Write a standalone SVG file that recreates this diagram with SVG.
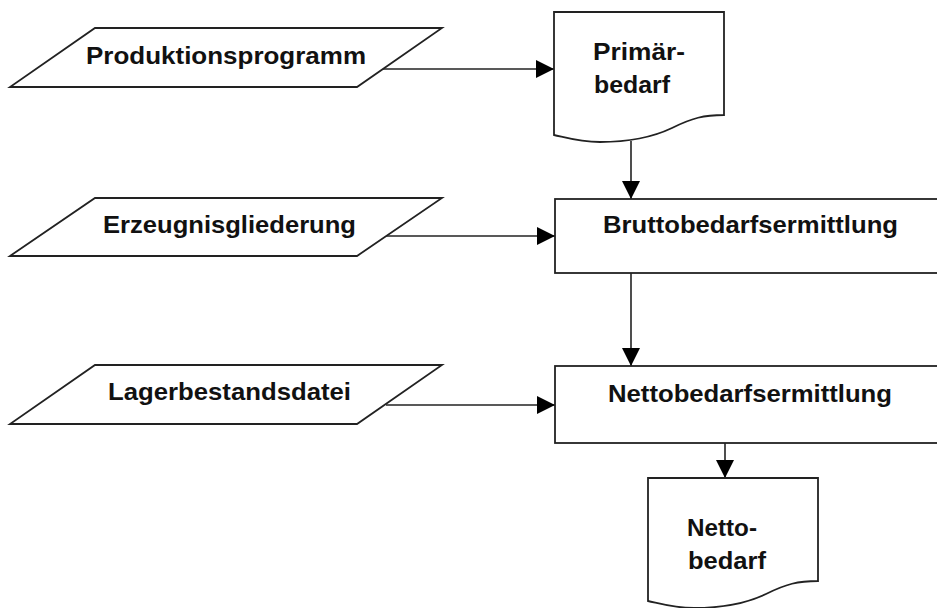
<svg xmlns="http://www.w3.org/2000/svg" width="937" height="608" viewBox="0 0 937 608">
  <style>
    .shape { fill: #ffffff; stroke: #222222; stroke-width: 1.8; }
    .conn { fill: none; stroke: #222222; stroke-width: 1.6; }
    .lbl { font-family: "Liberation Sans", Arial, sans-serif; font-weight: bold; font-size: 24px; fill: #111111; }
  </style>
  <defs>
    <marker id="arrow" markerWidth="18" markerHeight="18" refX="18" refY="9" orient="auto" markerUnits="userSpaceOnUse">
      <path d="M0,0 L18,9 L0,18 Z" fill="#000000"/>
    </marker>
    <!-- document symbol with wavy lower edge -->
    <path id="docShape" d="M0,0 H170 V103 C150,103 138,106 118,116 C95,127 70,130 46,130 C25,130 10,125 0,123 Z"/>
  </defs>
  <rect width="937" height="608" fill="#ffffff"/>

  <!-- connectors -->
  <g id="connectors">
    <line class="conn" x1="383" y1="69" x2="554" y2="69" marker-end="url(#arrow)"/>
    <line class="conn" x1="631" y1="141" x2="631" y2="199" marker-end="url(#arrow)"/>
    <line class="conn" x1="386" y1="236" x2="555" y2="236" marker-end="url(#arrow)"/>
    <line class="conn" x1="631" y1="273" x2="631" y2="366" marker-end="url(#arrow)"/>
    <line class="conn" x1="386" y1="405" x2="555" y2="405" marker-end="url(#arrow)"/>
    <line class="conn" x1="725" y1="443" x2="725" y2="478" marker-end="url(#arrow)"/>
  </g>

  <!-- input parallelograms -->
  <g id="produktionsprogramm">
    <polygon class="shape" points="95,28 442,28 357,87 10,87"/>
    <text class="lbl" x="86" y="64" textLength="280" lengthAdjust="spacingAndGlyphs">Produktionsprogramm</text>
  </g>
  <g id="erzeugnisgliederung">
    <polygon class="shape" points="95,198 442,198 357,256 10,256"/>
    <text class="lbl" x="103" y="233" textLength="253" lengthAdjust="spacingAndGlyphs">Erzeugnisgliederung</text>
  </g>
  <g id="lagerbestandsdatei">
    <polygon class="shape" points="95,365 442,365 357,424 10,424"/>
    <text class="lbl" x="108" y="400" textLength="243" lengthAdjust="spacingAndGlyphs">Lagerbestandsdatei</text>
  </g>

  <!-- documents -->
  <g id="primaerbedarf">
    <use href="#docShape" class="shape" x="554" y="12"/>
    <text class="lbl" x="593" y="60" textLength="92" lengthAdjust="spacingAndGlyphs">Primär-</text>
    <text class="lbl" x="594" y="93" textLength="76" lengthAdjust="spacingAndGlyphs">bedarf</text>
  </g>
  <g id="nettobedarf">
    <use href="#docShape" class="shape" x="648" y="478"/>
    <text class="lbl" x="687" y="536" textLength="70" lengthAdjust="spacingAndGlyphs">Netto-</text>
    <text class="lbl" x="688" y="569" textLength="78" lengthAdjust="spacingAndGlyphs">bedarf</text>
  </g>

  <!-- process boxes -->
  <g id="bruttobedarfsermittlung">
    <rect class="shape" x="555" y="199" width="400" height="74"/>
    <text class="lbl" x="603" y="233" textLength="295" lengthAdjust="spacingAndGlyphs">Bruttobedarfsermittlung</text>
  </g>
  <g id="nettobedarfsermittlung">
    <rect class="shape" x="555" y="366" width="400" height="77"/>
    <text class="lbl" x="608" y="402" textLength="284" lengthAdjust="spacingAndGlyphs">Nettobedarfsermittlung</text>
  </g>
</svg>
